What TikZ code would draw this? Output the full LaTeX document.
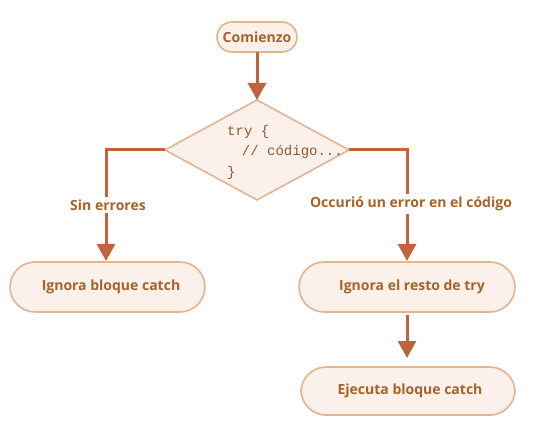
\documentclass[tikz,border=0pt]{standalone}
\usepackage{fontspec}
\setmainfont{Open Sans}
\newfontfamily\codefont{Liberation Mono}
\usetikzlibrary{shapes.geometric,arrows.meta}
\definecolor{boxfill}{HTML}{FBF0EA}
\definecolor{boxline}{HTML}{E2B590}
\definecolor{txt}{HTML}{A6632B}
\definecolor{arr}{HTML}{C1633B}
\definecolor{codetxt}{HTML}{8E5A2C}
\begin{document}
\begin{tikzpicture}[x=1pt,y=-1pt,
  pill/.style={draw=boxline,fill=boxfill,line width=1.6pt,rounded corners=#1},
  lbl/.style={font=\fontsize{14}{16}\selectfont\bfseries,text=txt},
  conn/.style={draw=arr,line width=3pt,-{Triangle[width=18pt,length=17pt]}},
  seg/.style={draw=arr,line width=3pt}]
\useasboundingbox (0,0) rectangle (548,435);
% nodes
\draw[pill=15pt] (217,22) rectangle (297,52);
\node[lbl] (start) at (257,37) {Comienzo};
\coordinate (startb) at (257,52);
\draw[draw=boxline,fill=boxfill,line width=1.6pt] (257,100) -- (349,150) -- (257,200) -- (165,150) -- cycle;
\coordinate (dtop) at (257,100);
\coordinate (dleft) at (165,150);
\coordinate (dright) at (349,150);
\node[anchor=west,text=codetxt,font=\codefont\fontsize{14}{20.5}\selectfont,align=left,inner sep=0pt] (code) at (227,152) {try \{\\\hspace*{2ex}// código...\\\}};
\draw[pill=25pt] (10,262) rectangle (205,312);
\node[lbl] (ignc) at (111,287) {Ignora bloque catch};
\draw[pill=25pt] (299,262) rectangle (515,312);
\node[lbl] (ignt) at (412,287) {Ignora el resto de try};
\draw[pill=25pt] (301,367) rectangle (515,415);
\node[lbl] (exec) at (410,391) {Ejecuta bloque catch};
\coordinate (igncT) at (106,261);
\coordinate (igntT) at (407,261);
\coordinate (igntB) at (407,315);
\coordinate (execT) at (407,358);
% connectors
\draw[conn] (startb) -- (dtop);
\draw[conn] (dleft) -- (106,150) -- (igncT);
\draw[conn] (dright) -- (407,150) -- (igntT);
\draw[conn] (igntB) -- (execT);
% labels on lines
\node[lbl,fill=white,inner sep=3pt] (l1) at (108,205) {Sin errores};
\node[lbl,fill=white,inner sep=3pt] (l2) at (411,204) {Occurió un error en el código};
\end{tikzpicture}
\end{document}
